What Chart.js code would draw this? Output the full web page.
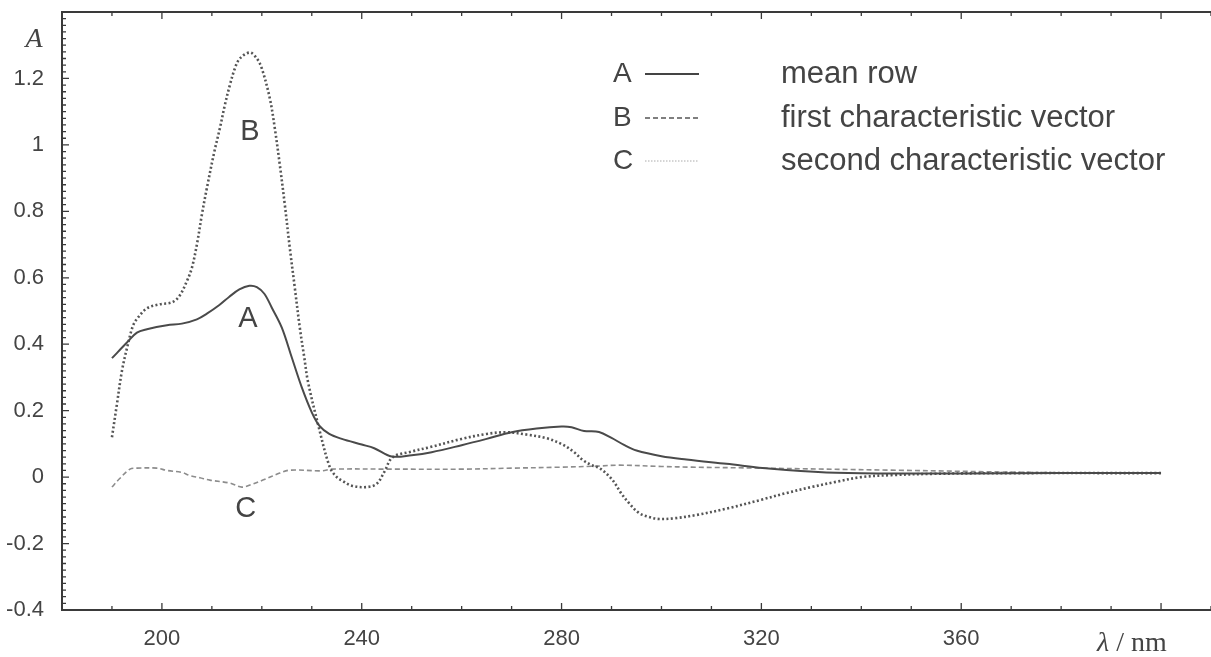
<!DOCTYPE html>
<html><head><meta charset="utf-8">
<script src="https://cdn.jsdelivr.net/npm/chart.js@4/dist/chart.umd.min.js"></script>
<style>html,body{margin:0;padding:0;background:#fff}#wrap{width:1211px;height:657px}</style>
</head><body><div id="wrap"><canvas id="c" width="1211" height="657"></canvas></div>
<script>
// wavelength (nm) / absorbance values
const meanRowX = [190,193,195,197,201,204,207,209,211.5,213.5,215.5,217.5,219,220.5,222,224,226,228,230,231.5,233.5,236,240,242.5,246,250,254,260,265,270,275,280,282,284.5,287.5,290,292.5,295,300,305,313,322,333,345,360,380,400];
const meanRowY = [0.358,0.405,0.435,0.445,0.457,0.462,0.475,0.492,0.518,0.543,0.565,0.576,0.572,0.552,0.51,0.45,0.36,0.27,0.195,0.155,0.13,0.115,0.098,0.087,0.062,0.066,0.075,0.096,0.115,0.135,0.146,0.152,0.15,0.139,0.136,0.118,0.097,0.08,0.063,0.053,0.04,0.025,0.014,0.011,0.011,0.012,0.012];

const curveBX = [190,191,192,193.2,194.2,195.2,197,199.5,202,203.5,205,206,207,208,209,210.5,211.6,212.6,213.6,214.6,215.6,217.6,219,220,221.6,222.6,223.6,224.6,225.6,226.6,227.6,228.5,229.2,231.2,233.6,235,236.2,238,241,243,244.5,246.2,250,253.6,260,265,269,273,277,280.2,282.5,284.2,286,287.6,290,292,293.6,295.5,297.5,299.5,302.5,307,313,320,325,330,335,340,346,355,370,400];
const curveBY = [0.12,0.22,0.32,0.4,0.455,0.48,0.508,0.52,0.526,0.545,0.59,0.63,0.7,0.79,0.87,0.98,1.05,1.12,1.18,1.23,1.26,1.278,1.26,1.23,1.14,1.05,0.94,0.82,0.69,0.57,0.45,0.36,0.29,0.162,0.03,0.0,-0.012,-0.026,-0.03,-0.02,0.015,0.06,0.077,0.09,0.115,0.13,0.135,0.128,0.117,0.098,0.075,0.052,0.036,0.027,-0.005,-0.05,-0.08,-0.108,-0.12,-0.126,-0.124,-0.114,-0.095,-0.068,-0.048,-0.03,-0.014,0.0,0.006,0.01,0.012,0.012];

const curveCX = [190,191.5,193.6,195,199,201,204,205.5,207.6,209.6,213.6,216,218,220.2,223.6,225.6,232,234,246,260,270,280,287,291.6,300,306,320,346,380,400];
const curveCY = [-0.03,-0.005,0.024,0.027,0.027,0.02,0.014,0.005,-0.002,-0.009,-0.018,-0.03,-0.022,-0.009,0.012,0.021,0.019,0.024,0.024,0.024,0.027,0.03,0.033,0.036,0.032,0.03,0.027,0.021,0.013,0.012];

const xTickValues = [200,240,280,320,360,400];
const xTickLabels = ['200','240','280','320','360',''];
const yTickValues = [-0.4,-0.2,0,0.2,0.4,0.6,0.8,1,1.2];
const yTickLabels = ['-0.4','-0.2','0','0.2','0.4','0.6','0.8','1','1.2'];

const legendKeys = ['A','B','C'];
const legendNames = ['mean row','first characteristic vector','second characteristic vector'];
const curveLabels = ['A','B','C'];
const curveLabelX = [217.2,217.6,216.8];
const curveLabelY = [0.476,1.04,-0.096];

const toPts = (xs, ys) => xs.map((x,i)=>({x:x, y:ys[i]}));
const INK = '#444';
const SANS = '"Liberation Sans", Arial, Helvetica, sans-serif';
const SERIF = '"Liberation Serif", "Times New Roman", serif';

const decor = {
  id:'decor',
  afterDraw(chart){
    const ctx = chart.ctx, a = chart.chartArea;
    const xs = chart.scales.x, ys = chart.scales.y;
    ctx.save();
    // frame
    ctx.strokeStyle = '#3a3a3a'; ctx.lineWidth = 2;
    ctx.beginPath();
    ctx.moveTo(a.right+2, a.top); ctx.lineTo(a.left, a.top); ctx.lineTo(a.left, a.bottom); ctx.lineTo(a.right+2, a.bottom);
    ctx.stroke();
    // inward ticks
    ctx.lineWidth = 1.3;
    ctx.beginPath();
    for (let v = 190; v <= 410; v += 10) {
      const major = xTickValues.includes(v);
      const L = major ? 7 : 4;
      const px = xs.getPixelForValue(v);
      ctx.moveTo(px, a.bottom); ctx.lineTo(px, a.bottom - L);
      ctx.moveTo(px, a.top); ctx.lineTo(px, a.top + L);
    }
    for (let k = -20; k <= 70; k++) {
      const v = k * 0.02;
      const major = (k % 10 === 0);
      const L = major ? 7 : 4;
      const py = ys.getPixelForValue(v);
      if (py < a.top + 1 || py > a.bottom - 1) continue;
      ctx.moveTo(a.left, py); ctx.lineTo(a.left + L, py);
    }
    ctx.stroke();
    // curve labels
    ctx.fillStyle = INK;
    ctx.font = '29px ' + SANS;
    ctx.textAlign = 'center'; ctx.textBaseline = 'middle';
    curveLabels.forEach((t,i)=>{
      ctx.fillText(t, xs.getPixelForValue(curveLabelX[i]), ys.getPixelForValue(curveLabelY[i]));
    });
    // legend
    const rowsY = [74, 118, 161];
    const styles = [
      {c:'#444', w:2, d:[]},
      {c:'#555', w:1.6, d:[5,3]},
      {c:'#aaa', w:1, d:[1.5,1.5]}
    ];
    legendKeys.forEach((k,i)=>{
      ctx.fillStyle = INK;
      ctx.textAlign = 'left';
      ctx.font = '28px ' + SANS;
      ctx.fillText(k, 613, rowsY[i]);
      ctx.strokeStyle = styles[i].c; ctx.lineWidth = styles[i].w; ctx.setLineDash(styles[i].d);
      ctx.beginPath(); ctx.moveTo(645, rowsY[i]); ctx.lineTo(699, rowsY[i]); ctx.stroke();
      ctx.setLineDash([]);
      ctx.font = '31px ' + SANS;
      ctx.fillText(legendNames[i], 781, rowsY[i]);
    });
    // axis titles
    ctx.fillStyle = INK;
    ctx.font = 'italic 28px ' + SERIF;
    ctx.textAlign = 'center';
    ctx.fillText('A', 34, 40);
    ctx.textAlign = 'left'; ctx.textBaseline = 'alphabetic';
    ctx.font = 'italic 28px ' + SERIF;
    ctx.fillText('\u03BB', 1097, 651);
    const lw = ctx.measureText('\u03BB').width;
    ctx.font = '28px ' + SERIF;
    ctx.fillText(' / nm', 1097 + lw, 651);
    ctx.restore();
  }
};

function labelFor(values, labels, v){
  for (let i=0;i<values.length;i++) if (Math.abs(values[i]-v) < 1e-9) return labels[i];
  return '';
}

new Chart(document.getElementById('c'), {
  type:'line',
  data:{
    datasets:[
      {label:'mean row', data:toPts(meanRowX, meanRowY), borderColor:'#4a4a4a', borderWidth:2, pointRadius:0, tension:0.35, fill:false},
      {label:'first characteristic vector', data:toPts(curveBX, curveBY), borderColor:'#555', borderWidth:2.6, borderDash:[2,2.4], pointRadius:0, tension:0.35, fill:false},
      {label:'second characteristic vector', data:toPts(curveCX, curveCY), borderColor:'#8c8c8c', borderWidth:1.6, borderDash:[5,3], pointRadius:0, tension:0.35, fill:false}
    ]
  },
  options:{
    responsive:false, devicePixelRatio:1, animation:false,
    layout:{padding:{top:12, right:0, left:0, bottom:0}},
    plugins:{legend:{display:false}, tooltip:{enabled:false}},
    scales:{
      x:{type:'linear', min:180, max:410,
         grid:{display:false, drawTicks:false}, border:{display:false},
         ticks:{color:INK, font:{family:SANS, size:22}, padding:16, maxRotation:0, autoSkip:false,
           callback:(v)=>labelFor(xTickValues, xTickLabels, v)},
         afterBuildTicks:(s)=>{ s.ticks = xTickValues.map(v=>({value:v})); },
         afterFit:(s)=>{ s.height = 47; s.paddingLeft = 0; s.paddingRight = 0; }},
      y:{type:'linear', min:-0.4, max:1.4,
         grid:{display:false, drawTicks:false}, border:{display:false},
         ticks:{color:INK, font:{family:SANS, size:22}, padding:18, autoSkip:false,
           callback:(v)=>labelFor(yTickValues, yTickLabels, v)},
         afterBuildTicks:(s)=>{ s.ticks = yTickValues.map(v=>({value:v})); },
         afterFit:(s)=>{ s.width = 62; s.paddingTop = 0; s.paddingBottom = 0; }}
    }
  },
  plugins:[decor]
});
</script></body></html>
